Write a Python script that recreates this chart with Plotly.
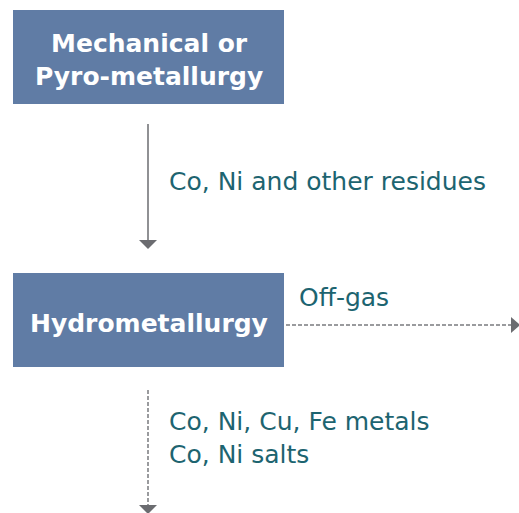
import plotly.graph_objects as go

box_labels = ["Mechanical or<br>Pyro-metallurgy", "Hydrometallurgy"]
flow_labels = ["Co, Ni and other residues", "Off-gas", "Co, Ni, Cu, Fe metals<br>Co, Ni salts"]

BOX = "#607ca5"
TEAL = "#1d6470"
GRAY = "#6b6c70"
DASH_GRAY = "#7a7b7f"
FONT = "DejaVu Sans"

fig = go.Figure()
shapes = []
for (y0, y1) in [(10, 104), (273, 367)]:
    shapes.append(dict(type="rect", x0=13, x1=284, y0=y0, y1=y1, fillcolor=BOX, line=dict(width=0), layer="below"))
shapes.append(dict(type="line", x0=148, x1=148, y0=124, y1=241, line=dict(color=GRAY, width=1.5)))
shapes.append(dict(type="path", path="M 139 240 L 157 240 L 148 249 Z", fillcolor=GRAY, line=dict(width=0)))
shapes.append(dict(type="line", x0=286, x1=511, y0=325, y1=325, line=dict(color=DASH_GRAY, width=1.5, dash="4px,2px")))
shapes.append(dict(type="path", path="M 511 317 L 520 325 L 511 333 Z", fillcolor=GRAY, line=dict(width=0)))
shapes.append(dict(type="line", x0=148, x1=148, y0=390, y1=506, line=dict(color=DASH_GRAY, width=1.5, dash="4px,2px")))
shapes.append(dict(type="path", path="M 139 505 L 157 505 L 148 514 Z", fillcolor=GRAY, line=dict(width=0)))

annotations = [
    dict(x=148.5, y=60, text="<b>%s</b>" % box_labels[0], font=dict(size=25, color="white", family=FONT), showarrow=False, align="center", xanchor="center", yanchor="middle"),
    dict(x=148.5, y=323, text="<b>%s</b>" % box_labels[1], font=dict(size=25, color="white", family=FONT), showarrow=False, xanchor="center", yanchor="middle"),
    dict(x=167, y=181, text=flow_labels[0], font=dict(size=25, color=TEAL, family=FONT), showarrow=False, xanchor="left", yanchor="middle"),
    dict(x=297, y=297, text=flow_labels[1], font=dict(size=25, color=TEAL, family=FONT), showarrow=False, xanchor="left", yanchor="middle"),
    dict(x=167, y=438, text=flow_labels[2], font=dict(size=25, color=TEAL, family=FONT), showarrow=False, xanchor="left", yanchor="middle", align="left"),
]

fig.update_layout(
    width=519, height=513, margin=dict(l=0, r=0, t=0, b=0),
    paper_bgcolor="white", plot_bgcolor="white",
    xaxis=dict(range=[0, 519], visible=False, fixedrange=True),
    yaxis=dict(range=[513, 0], visible=False, fixedrange=True),
    shapes=shapes, annotations=annotations, showlegend=False,
)
fig.write_html("out.html", config={"displayModeBar": False},
               post_script="document.body.style.margin='0';document.body.style.overflow='hidden';")
